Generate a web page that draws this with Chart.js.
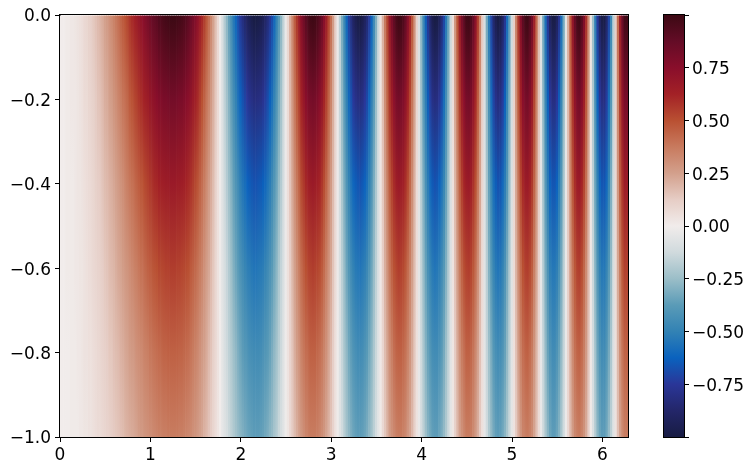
<!DOCTYPE html>
<html>
<head>
<meta charset="utf-8">
<style>
	html, body { margin: 0; padding: 0; background: #fff; }
	canvas { position: absolute; top: 0; }
	#heat-canvas { left: 0; }
	#bar-canvas { left: 640px; }
</style>
<script src="https://cdn.jsdelivr.net/npm/chart.js@4"></script>
</head>
<body>
<canvas id="heat-canvas" width="640" height="471"></canvas>
<canvas id="bar-canvas" width="114" height="471"></canvas>
<script>
const kRowLevels = [0, -.2, -.4, -.6, -.8, -1];

// columns read every 0.05
const kColumnsA = [
	0,.05,.1,.15,.2,.25,.3,.35,.4,.45,
	.5,.55,.6,.65,.7,.75,.8,.85,.9,.95,
	1,1.05,1.1,1.15,1.2,1.25,1.3,1.35,1.4,1.45,
	1.5,1.55,1.6,1.65,1.7,1.75,1.8,1.85,1.9,1.95,
	2,2.05,2.1,2.15,2.2,2.25,2.3,2.35,2.4,2.45,
	2.5,2.55,2.6,2.65,2.7,2.75,2.8,2.85,2.9,2.95,
	3,3.05,3.1,3.15,3.2,3.25,3.3,3.35,3.4,3.45,
	3.5,3.55,3.6,3.65,3.7,3.75,3.8,3.85,3.9,3.95,
	4,4.05,4.1,4.15,4.2,4.25,4.3,4.35,4.4,4.45,
	4.5,4.55,4.6,4.65,4.7,4.75,4.8,4.85,4.9,4.95,
	5,5.05,5.1,5.15,5.2,5.25,5.3,5.35,5.4,5.45,
	5.5,5.55,5.6,5.65,5.7,5.75,5.8,5.85,5.9,5.95,
	6,6.05,6.1,6.15,6.2,6.25,6.3
];
const kRowTopA = [
	0,0,.01,.02,.04,.06,.09,.12,.16,.2,
	.25,.3,.35,.41,.47,.53,.6,.66,.72,.78,
	.84,.89,.94,.97,.99,1,.99,.97,.93,.86,
	.78,.67,.55,.41,.25,.08,-.1,-.28,-.45,-.61,
	-.76,-.87,-.95,-1,-.99,-.94,-.84,-.69,-.5,-.28,
	-.03,.22,.46,.67,.84,.96,1,.96,.85,.66,
	.41,.12,-.18,-.48,-.73,-.91,-.99,-.97,-.85,-.62,
	-.31,.04,.38,.69,.9,1,.95,.77,.48,.11,
	-.29,-.64,-.89,-1,-.93,-.71,-.35,.07,.49,.82,
	.99,.96,.74,.36,-.1,-.54,-.87,-1,-.9,-.59,
	-.13,.36,.77,.98,.94,.65,.18,-.34,-.77,-.99,
	-.92,-.58,-.06,.49,.88,1,.79,.33,-.25,-.75,
	-.99,-.89,-.47,.12,.68,.98,.91
];
const kRow02A = [
	0,0,.01,.02,.03,.05,.07,.1,.13,.16,
	.21,.25,.29,.34,.39,.43,.49,.54,.59,.64,
	.69,.73,.77,.8,.81,.82,.81,.8,.76,.71,
	.64,.55,.45,.34,.21,.07,-.08,-.23,-.37,-.5,
	-.62,-.71,-.78,-.82,-.81,-.77,-.69,-.57,-.41,-.23,
	-.02,.18,.38,.55,.69,.79,.82,.79,.7,.54,
	.34,.1,-.15,-.39,-.6,-.75,-.81,-.8,-.7,-.51,
	-.25,.03,.31,.57,.74,.82,.78,.63,.39,.09,
	-.24,-.52,-.73,-.82,-.76,-.58,-.29,.06,.4,.67,
	.81,.79,.61,.3,-.08,-.44,-.71,-.82,-.74,-.48,
	-.11,.3,.63,.8,.77,.53,.15,-.28,-.63,-.81,
	-.75,-.48,-.05,.4,.72,.82,.65,.27,-.2,-.62,
	-.81,-.73,-.39,.1,.56,.8,.75
];
const kRow04A = [
	0,0,.01,.01,.03,.04,.06,.08,.11,.13,
	.17,.2,.23,.27,.31,.36,.4,.44,.48,.52,
	.56,.6,.63,.65,.66,.67,.66,.65,.62,.58,
	.52,.45,.37,.27,.17,.05,-.07,-.19,-.3,-.41,
	-.51,-.58,-.64,-.67,-.66,-.63,-.56,-.46,-.34,-.19,
	-.02,.15,.31,.45,.56,.64,.67,.64,.57,.44,
	.27,.08,-.12,-.32,-.49,-.61,-.66,-.65,-.57,-.42,
	-.21,.03,.25,.46,.6,.67,.64,.52,.32,.07,
	-.19,-.43,-.6,-.67,-.62,-.48,-.23,.05,.33,.55,
	.66,.64,.5,.24,-.07,-.36,-.58,-.67,-.6,-.4,
	-.09,.24,.52,.66,.63,.44,.12,-.23,-.52,-.66,
	-.62,-.39,-.04,.33,.59,.67,.53,.22,-.17,-.5,
	-.66,-.6,-.31,.08,.46,.66,.61
];
const kRow06A = [
	0,0,.01,.01,.02,.03,.05,.07,.09,.11,
	.14,.17,.19,.23,.26,.29,.33,.36,.4,.43,
	.46,.49,.52,.53,.54,.55,.54,.53,.51,.47,
	.43,.37,.3,.23,.14,.04,-.06,-.15,-.25,-.34,
	-.42,-.48,-.52,-.55,-.54,-.52,-.46,-.38,-.28,-.15,
	-.02,.12,.25,.37,.46,.53,.55,.53,.47,.36,
	.23,.07,-.1,-.26,-.4,-.5,-.54,-.53,-.47,-.34,
	-.17,.02,.21,.38,.5,.55,.52,.42,.26,.06,
	-.16,-.35,-.49,-.55,-.51,-.39,-.19,.04,.27,.45,
	.54,.53,.41,.2,-.06,-.3,-.48,-.55,-.5,-.32,
	-.07,.2,.42,.54,.52,.36,.1,-.19,-.42,-.54,
	-.51,-.32,-.03,.27,.48,.55,.43,.18,-.14,-.41,
	-.54,-.49,-.26,.07,.37,.54,.5
];
const kRow08A = [
	0,0,0,.01,.02,.03,.04,.05,.07,.09,
	.11,.14,.16,.18,.21,.24,.27,.3,.32,.35,
	.38,.4,.42,.44,.45,.45,.45,.44,.42,.39,
	.35,.3,.25,.18,.11,.04,-.05,-.13,-.2,-.27,
	-.34,-.39,-.43,-.45,-.45,-.42,-.38,-.31,-.23,-.13,
	-.01,.1,.21,.3,.38,.43,.45,.43,.38,.3,
	.18,.05,-.08,-.22,-.33,-.41,-.45,-.44,-.38,-.28,
	-.14,.02,.17,.31,.41,.45,.43,.35,.22,.05,
	-.13,-.29,-.4,-.45,-.42,-.32,-.16,.03,.22,.37,
	.45,.43,.33,.16,-.05,-.24,-.39,-.45,-.41,-.27,
	-.06,.16,.35,.44,.42,.29,.08,-.15,-.35,-.45,
	-.41,-.26,-.03,.22,.4,.45,.36,.15,-.11,-.34,
	-.45,-.4,-.21,.05,.31,.44,.41
];
const kRowBottomA = [
	0,0,0,.01,.01,.02,.03,.04,.06,.07,
	.09,.11,.13,.15,.17,.2,.22,.24,.27,.29,
	.31,.33,.35,.36,.37,.37,.37,.36,.34,.32,
	.29,.25,.2,.15,.09,.03,-.04,-.1,-.17,-.23,
	-.28,-.32,-.35,-.37,-.37,-.35,-.31,-.26,-.19,-.1,
	-.01,.08,.17,.25,.31,.36,.37,.36,.31,.24,
	.15,.04,-.07,-.18,-.27,-.34,-.37,-.36,-.31,-.23,
	-.11,.01,.14,.26,.33,.37,.35,.28,.18,.04,
	-.11,-.24,-.33,-.37,-.34,-.26,-.13,.03,.18,.3,
	.37,.36,.27,.13,-.04,-.2,-.32,-.37,-.33,-.22,
	-.05,.13,.28,.36,.35,.24,.07,-.13,-.28,-.37,
	-.34,-.21,-.02,.18,.33,.37,.29,.12,-.09,-.28,
	-.37,-.33,-.17,.04,.25,.36,.34
];

// columns in between, so the stripes stay smooth
const kColumnsB = [
	.025,.075,.125,.175,.225,.275,.325,.375,.425,.475,
	.525,.575,.625,.675,.725,.775,.825,.875,.925,.975,
	1.025,1.075,1.125,1.175,1.225,1.275,1.325,1.375,1.425,1.475,
	1.525,1.575,1.625,1.675,1.725,1.775,1.825,1.875,1.925,1.975,
	2.025,2.075,2.125,2.175,2.225,2.275,2.325,2.375,2.425,2.475,
	2.525,2.575,2.625,2.675,2.725,2.775,2.825,2.875,2.925,2.975,
	3.025,3.075,3.125,3.175,3.225,3.275,3.325,3.375,3.425,3.475,
	3.525,3.575,3.625,3.675,3.725,3.775,3.825,3.875,3.925,3.975,
	4.025,4.075,4.125,4.175,4.225,4.275,4.325,4.375,4.425,4.475,
	4.525,4.575,4.625,4.675,4.725,4.775,4.825,4.875,4.925,4.975,
	5.025,5.075,5.125,5.175,5.225,5.275,5.325,5.375,5.425,5.475,
	5.525,5.575,5.625,5.675,5.725,5.775,5.825,5.875,5.925,5.975,
	6.025,6.075,6.125,6.175,6.225,6.275
];
const kRowTopB = [
	0,.01,.02,.03,.05,.08,.11,.14,.18,.22,
	.27,.32,.38,.44,.5,.57,.63,.69,.75,.81,
	.87,.91,.95,.98,1,1,.98,.95,.9,.82,
	.73,.61,.48,.33,.17,-.01,-.19,-.37,-.54,-.69,
	-.82,-.92,-.98,-1,-.97,-.89,-.77,-.6,-.39,-.16,
	.09,.34,.57,.77,.91,.99,.99,.92,.76,.54,
	.27,-.03,-.33,-.61,-.83,-.96,-1,-.92,-.74,-.47,
	-.14,.21,.54,.81,.97,.99,.88,.64,.3,-.09,
	-.47,-.78,-.97,-.99,-.84,-.54,-.14,.29,.67,.92,
	1,.87,.56,.13,-.33,-.72,-.96,-.98,-.77,-.37,
	.12,.58,.91,1,.83,.43,-.08,-.58,-.92,-.99,
	-.78,-.33,.22,.71,.98,.93,.59,.04,-.52,-.91,
	-.99,-.71,-.18,.42,.87,.99
];
const kRow02B = [
	0,.01,.02,.02,.04,.07,.09,.11,.15,.18,
	.22,.26,.31,.36,.41,.47,.52,.57,.62,.66,
	.71,.75,.78,.8,.82,.82,.8,.78,.74,.67,
	.6,.5,.39,.27,.14,-.01,-.16,-.3,-.44,-.57,
	-.67,-.75,-.8,-.82,-.8,-.73,-.63,-.49,-.32,-.13,
	.07,.28,.47,.63,.75,.81,.81,.75,.62,.44,
	.22,-.02,-.27,-.5,-.68,-.79,-.82,-.75,-.61,-.39,
	-.11,.17,.44,.66,.8,.81,.72,.52,.25,-.07,
	-.39,-.64,-.8,-.81,-.69,-.44,-.11,.24,.55,.75,
	.82,.71,.46,.11,-.27,-.59,-.79,-.8,-.63,-.3,
	.1,.48,.75,.82,.68,.35,-.07,-.48,-.75,-.81,
	-.64,-.27,.18,.58,.8,.76,.48,.03,-.43,-.75,
	-.81,-.58,-.15,.34,.71,.81
];
const kRow04B = [
	0,.01,.01,.02,.03,.05,.07,.09,.12,.15,
	.18,.21,.25,.29,.34,.38,.42,.46,.5,.54,
	.58,.61,.64,.66,.67,.67,.66,.64,.6,.55,
	.49,.41,.32,.22,.11,-.01,-.13,-.25,-.36,-.46,
	-.55,-.62,-.66,-.67,-.65,-.6,-.52,-.4,-.26,-.11,
	.06,.23,.38,.52,.61,.66,.66,.62,.51,.36,
	.18,-.02,-.22,-.41,-.56,-.64,-.67,-.62,-.5,-.31,
	-.09,.14,.36,.54,.65,.66,.59,.43,.2,-.06,
	-.31,-.52,-.65,-.66,-.56,-.36,-.09,.19,.45,.62,
	.67,.58,.38,.09,-.22,-.48,-.64,-.66,-.52,-.25,
	.08,.39,.61,.67,.56,.29,-.05,-.39,-.62,-.66,
	-.52,-.22,.15,.48,.66,.62,.4,.03,-.35,-.61,
	-.66,-.48,-.12,.28,.58,.66
];
const kRow06B = [
	0,.01,.01,.02,.03,.04,.06,.08,.1,.12,
	.15,.18,.21,.24,.28,.31,.35,.38,.41,.45,
	.48,.5,.52,.54,.55,.55,.54,.52,.5,.45,
	.4,.34,.26,.18,.09,-.01,-.1,-.2,-.3,-.38,
	-.45,-.51,-.54,-.55,-.53,-.49,-.42,-.33,-.21,-.09,
	.05,.19,.31,.42,.5,.54,.54,.51,.42,.3,
	.15,-.02,-.18,-.34,-.46,-.53,-.55,-.51,-.41,-.26,
	-.08,.12,.3,.45,.53,.54,.48,.35,.17,-.05,
	-.26,-.43,-.53,-.54,-.46,-.3,-.08,.16,.37,.51,
	.55,.48,.31,.07,-.18,-.4,-.53,-.54,-.42,-.2,
	.07,.32,.5,.55,.46,.24,-.04,-.32,-.51,-.54,
	-.43,-.18,.12,.39,.54,.51,.32,.02,-.29,-.5,
	-.54,-.39,-.1,.23,.48,.54
];
const kRow08B = [
	0,0,.01,.01,.02,.04,.05,.06,.08,.1,
	.12,.14,.17,.2,.23,.26,.28,.31,.34,.36,
	.39,.41,.43,.44,.45,.45,.44,.43,.41,.37,
	.33,.27,.22,.15,.08,0,-.09,-.17,-.24,-.31,
	-.37,-.41,-.44,-.45,-.44,-.4,-.35,-.27,-.18,-.07,
	.04,.15,.26,.35,.41,.45,.45,.41,.34,.24,
	.12,-.01,-.15,-.27,-.37,-.43,-.45,-.41,-.33,-.21,
	-.06,.09,.24,.36,.44,.45,.4,.29,.14,-.04,
	-.21,-.35,-.44,-.45,-.38,-.24,-.06,.13,.3,.41,
	.45,.39,.25,.06,-.15,-.32,-.43,-.44,-.35,-.17,
	.05,.26,.41,.45,.37,.19,-.04,-.26,-.41,-.45,
	-.35,-.15,.1,.32,.44,.42,.27,.02,-.23,-.41,
	-.45,-.32,-.08,.19,.39,.45
];
const kRowBottomB = [
	0,0,.01,.01,.02,.03,.04,.05,.07,.08,
	.1,.12,.14,.16,.19,.21,.23,.26,.28,.3,
	.32,.34,.35,.36,.37,.37,.36,.35,.33,.3,
	.27,.23,.18,.12,.06,0,-.07,-.14,-.2,-.26,
	-.3,-.34,-.36,-.37,-.36,-.33,-.28,-.22,-.14,-.06,
	.03,.13,.21,.28,.34,.37,.37,.34,.28,.2,
	.1,-.01,-.12,-.23,-.31,-.36,-.37,-.34,-.27,-.17,
	-.05,.08,.2,.3,.36,.37,.33,.24,.11,-.03,
	-.17,-.29,-.36,-.37,-.31,-.2,-.05,.11,.25,.34,
	.37,.32,.21,.05,-.12,-.27,-.36,-.36,-.28,-.14,
	.04,.21,.34,.37,.31,.16,-.03,-.21,-.34,-.37,
	-.29,-.12,.08,.26,.36,.34,.22,.01,-.19,-.34,
	-.37,-.26,-.07,.16,.32,.37
];

const kCmapValues = [-1, -.875, -.75, -.625, -.5, -.375, -.25, -.125, 0, .125, .25, .375, .5, .625, .75, .875, 1];
const kCmapColors = [
	[24, 28, 67], [35, 38, 105], [42, 54, 152], [10, 98, 190], [50, 130, 180], [90, 155, 183],
	[155, 190, 200], [208, 218, 221], [241, 236, 235], [230, 205, 197], [211, 160, 140], [200, 122, 94],
	[185, 80, 50], [163, 33, 38], [137, 14, 43], [100, 12, 38], [60, 9, 20]
];

// merge both column lists in x order
function zipColumns(a, b) {
	const merged = [];
	a.forEach((v, i) => {
		merged.push(v);
		if (i < b.length) {
			merged.push(b[i]);
		}
	});
	return merged;
}

const kColumns = zipColumns(kColumnsA, kColumnsB);
const kRows = [
	zipColumns(kRowTopA, kRowTopB),
	zipColumns(kRow02A, kRow02B),
	zipColumns(kRow04A, kRow04B),
	zipColumns(kRow06A, kRow06B),
	zipColumns(kRow08A, kRow08B),
	zipColumns(kRowBottomA, kRowBottomB)
];

function valueToColor(v) {
	let i = 0;
	while (i < kCmapValues.length - 2 && v > kCmapValues[i + 1]) {
		++i;
	}
	const t = (v - kCmapValues[i]) / (kCmapValues[i + 1] - kCmapValues[i]);
	const c = kCmapColors[i].map((a, k) => Math.round(a + (kCmapColors[i + 1][k] - a) * t));
	return `rgb(${c[0]},${c[1]},${c[2]})`;
}

const kTickFont = {family: "DejaVu Sans", size: 17};

// matplotlib style spines on all four sides
const framePlugin = {
	id: "frame",
	afterDraw: (chart) => {
		const {ctx, chartArea} = chart;
		ctx.save();
		ctx.strokeStyle = "#000";
		ctx.lineWidth = 1;
		ctx.strokeRect(chartArea.left - .5, chartArea.top - .5, chartArea.right - chartArea.left + 1, chartArea.bottom - chartArea.top + 1);
		ctx.restore();
	}
};

function columnGradient(context) {
	const {chart, dataIndex} = context;
	if (!chart.chartArea || dataIndex === undefined) {
		return "#fff";
	}
	const yScale = chart.scales.y;
	const top = yScale.getPixelForValue(0);
	const bottom = yScale.getPixelForValue(-1);
	const gradient = chart.ctx.createLinearGradient(0, top, 0, bottom);
	kRows.forEach((row, i) => {
		gradient.addColorStop(-kRowLevels[i], valueToColor(row[dataIndex]));
	});
	return gradient;
}

function signed(text) {
	return text.replace("-", "\u2212");
}

const heatChart = new Chart(document.getElementById("heat-canvas").getContext("2d"), {
	type: "bar",
	data: {
		datasets: [{
			data: kColumns.map((x) => ({x, y: [-1, 0]})),
			backgroundColor: columnGradient,
			barPercentage: 1.3,
			categoryPercentage: 1,
			borderWidth: 0
		}]
	},
	options: {
		responsive: false,
		animation: false,
		layout: {padding: {top: 15, right: 12, left: 0, bottom: 0}},
		plugins: {legend: {display: false}, tooltip: {enabled: false}},
		scales: {
			x: {
				type: "linear",
				offset: false,
				min: 0,
				max: 6.283,
				afterFit: (scale) => { scale.height = 34; },
				border: {color: "#000"},
				grid: {offset: false, drawOnChartArea: false, color: "#000", tickColor: "#000", tickLength: 5},
				ticks: {
					stepSize: 1,
					includeBounds: false,
					autoSkip: false,
					maxRotation: 0,
					color: "#000",
					font: kTickFont,
					padding: 3,
					callback: (v) => String(v)
				}
			},
			y: {
				type: "linear",
				min: -1,
				max: 0,
				afterFit: (scale) => { scale.width = 60; },
				border: {color: "#000"},
				grid: {drawOnChartArea: false, color: "#000", tickColor: "#000", tickLength: 5},
				ticks: {
					stepSize: .2,
					color: "#000",
					font: kTickFont,
					padding: 4,
					labelOffset: 2,
					callback: (v) => signed(v.toFixed(1))
				}
			}
		}
	},
	plugins: [framePlugin]
});

const barChart = new Chart(document.getElementById("bar-canvas").getContext("2d"), {
	type: "bar",
	data: {
		labels: [""],
		datasets: [{
			data: [[-1, 1]],
			barPercentage: 1,
			categoryPercentage: 1,
			borderWidth: 0,
			backgroundColor: (context) => {
				const {chart} = context;
				if (!chart.chartArea) {
					return "#fff";
				}
				const yScale = chart.scales.y;
				const gradient = chart.ctx.createLinearGradient(0, yScale.getPixelForValue(-1), 0, yScale.getPixelForValue(1));
				kCmapValues.forEach((v) => gradient.addColorStop((v + 1) / 2, valueToColor(v)));
				return gradient;
			}
		}]
	},
	options: {
		responsive: false,
		animation: false,
		layout: {padding: {top: 15, left: 24, right: 0, bottom: 34}},
		plugins: {legend: {display: false}, tooltip: {enabled: false}},
		scales: {
			x: {display: false},
			y: {
				position: "right",
				min: -1,
				max: 1,
				afterFit: (scale) => { scale.width = 70; },
				border: {color: "#000"},
				grid: {drawOnChartArea: false, color: "#000", tickColor: "#000", tickLength: 5},
				ticks: {
					stepSize: .25,
					color: "#000",
					font: kTickFont,
					padding: 3,
					labelOffset: 2,
					callback: (v) => (Math.abs(v) === 1 ? "" : signed(v.toFixed(2)))
				}
			}
		}
	},
	plugins: [framePlugin]
});
</script>
</body>
</html>
